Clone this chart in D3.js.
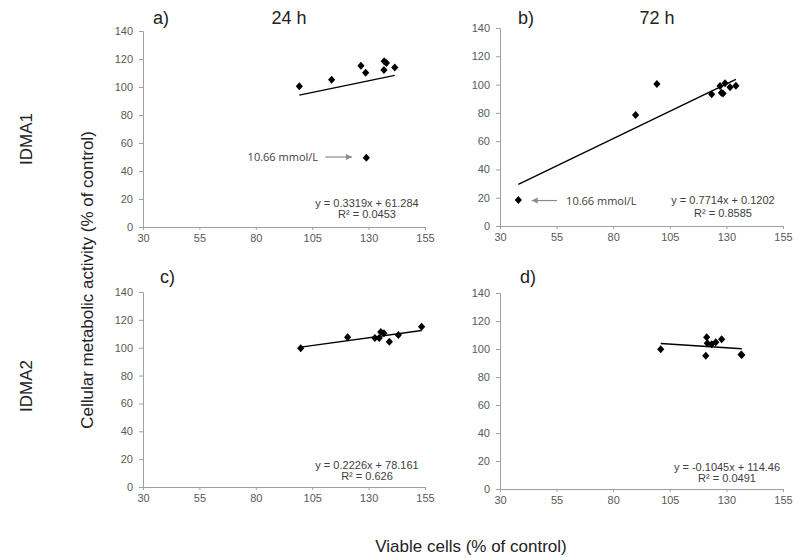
<!DOCTYPE html>
<html><head><meta charset="utf-8">
<script src="https://cdn.jsdelivr.net/npm/d3@7"></script>
<style>body{margin:0;background:#fff}svg{display:block}</style>
</head><body>
<svg id="c" width="800" height="558"></svg>
<script>
// ---- data ----
const xTicks = [30, 55, 80, 105, 130, 155];
const yTicks = [0, 20, 40, 60, 80, 100, 120, 140];
const panelLabels = ["a)", "b)", "c)", "d)"];
const timeLabels = ["24 h", "72 h"];
const rowLabels = ["IDMA1", "IDMA2"];

const aX = [99.3, 113.6, 126.6, 128.7, 136.9, 137.9, 136.8, 141.6, 129.0];
const aY = [100.5, 105.2, 115.2, 110.2, 118.4, 117.2, 112.2, 114.0, 49.5];
const bX = [38.1, 89.9, 99.3, 123.5, 127.2, 127.8, 128.5, 129.4, 131.6, 134.2];
const bY = [18.4, 78.5, 100.4, 93.1, 99.0, 94.3, 93.6, 100.9, 98.1, 99.2];
const cX = [99.9, 120.7, 132.8, 134.7, 135.4, 136.8, 139.2, 143.2, 153.5];
const cY = [99.6, 107.5, 107.0, 107.0, 111.3, 110.3, 104.3, 109.1, 115.1];
const dX = [101.0, 121.3, 120.9, 121.6, 123.5, 125.3, 127.9, 136.8, 136.5];
const dY = [99.8, 108.4, 95.2, 104.1, 103.4, 104.8, 106.9, 95.7, 96.0];

const slopes = [0.3319, 0.7714, 0.2226, -0.1045];
const intercepts = [61.284, 0.1202, 78.161, 114.46];
const eqLabels = ["y = 0.3319x + 61.284", "y = 0.7714x + 0.1202", "y = 0.2226x + 78.161", "y = -0.1045x + 114.46"];
const r2Labels = ["R\u00b2 = 0.0453", "R\u00b2 = 0.8585", "R\u00b2 = 0.626", "R\u00b2 = 0.0491"];
const annotText = "10.66 mmol/L";

// ---- layout ----
const svg = d3.select("#c");
const boxes = [
  {l:143, r:425, t:31, b:227, eqX:367, eqY:207, r2Y:218, lblX:153, lblY:24, titleX:289},
  {l:500, r:783, t:28, b:226, eqX:723, eqY:204, r2Y:217, lblX:518, lblY:24, titleX:657},
  {l:143, r:425, t:292, b:487, eqX:367, eqY:469, r2Y:480, lblX:160, lblY:283},
  {l:500, r:783, t:293, b:489, eqX:727, eqY:471, r2Y:482, lblX:520, lblY:283}
];
const xs = [aX, bX, cX, dX], ys = [aY, bY, cY, dY];
const font = "'Liberation Sans', Arial, sans-serif";

boxes.forEach((bx, i) => {
  const x = d3.scaleLinear().domain([30,155]).range([bx.l, bx.r]);
  const y = d3.scaleLinear().domain([0,140]).range([bx.b, bx.t]);
  const g = svg.append("g");

  const xa = g.append("g").attr("transform", `translate(0,${bx.b})`)
    .call(d3.axisBottom(x).tickValues(xTicks).tickSize(3).tickPadding(4).tickFormat(d3.format("d")));
  const ya = g.append("g").attr("transform", `translate(${bx.l},0)`)
    .call(d3.axisLeft(y).tickValues(yTicks).tickSize(4).tickPadding(6).tickFormat(d3.format("d")));
  [xa, ya].forEach(a => {
    a.select(".domain").attr("stroke", "#a0a0a0");
    a.selectAll(".tick line").attr("stroke", "#a0a0a0");
    a.selectAll(".tick text").attr("fill", "#595959").style("font-family", font).style("font-size", "11px");
  });

  // trendline
  const ext = d3.extent(xs[i]);
  g.append("line")
    .attr("x1", x(ext[0])).attr("y1", y(slopes[i]*ext[0] + intercepts[i]))
    .attr("x2", x(ext[1])).attr("y2", y(slopes[i]*ext[1] + intercepts[i]))
    .attr("stroke", "#000").attr("stroke-width", 1.4);

  // points
  g.selectAll("path.pt").data(xs[i].map((v, k) => [v, ys[i][k]])).join("path")
    .attr("class", "pt")
    .attr("d", "M0,-4L3.6,0L0,4L-3.6,0Z")
    .attr("transform", d => `translate(${x(d[0])},${y(d[1])})`)
    .attr("fill", "#000");

  // equation
  g.append("text").attr("x", bx.eqX).attr("y", bx.eqY).attr("text-anchor", "middle")
    .attr("fill", "#404040").style("font-family", font).style("font-size", "11px").text(eqLabels[i]);
  g.append("text").attr("x", bx.eqX).attr("y", bx.r2Y).attr("text-anchor", "middle")
    .attr("fill", "#404040").style("font-family", font).style("font-size", "11px").text(r2Labels[i]);

  // panel label
  g.append("text").attr("x", bx.lblX).attr("y", bx.lblY)
    .attr("fill", "#222").style("font-family", font).style("font-size", "18px").text(panelLabels[i]);
  if (i < 2) {
    g.append("text").attr("x", bx.titleX).attr("y", 24).attr("text-anchor", "middle")
      .attr("fill", "#222").style("font-family", font).style("font-size", "18px").text(timeLabels[i]);
  }

  // annotations
  const arrow = (x1, x2, yy) => {
    g.append("line").attr("x1", x1).attr("x2", x2).attr("y1", yy).attr("y2", yy)
      .attr("stroke", "#8a8a8a").attr("stroke-width", 1.2);
    const dir = x2 > x1 ? 1 : -1;
    g.append("path").attr("d", `M${x2},${yy}L${x2-6*dir},${yy-3}L${x2-6*dir},${yy+3}Z`).attr("fill", "#8a8a8a");
  };
  if (i === 0) {
    arrow(x(110.8), x(122.6), y(50));
    g.append("text").attr("x", x(107.6)).attr("y", y(50) + 4).attr("text-anchor", "end")
      .attr("fill", "#404040").style("font-family", "'Open Sans', sans-serif").style("font-size", "11px").text(annotText);
  }
  if (i === 1) {
    arrow(x(55.2), x(44.0), y(18));
    g.append("text").attr("x", x(59.2)).attr("y", y(18) + 4)
      .attr("fill", "#404040").style("font-family", "'Open Sans', sans-serif").style("font-size", "11px").text(annotText);
  }
});

// global labels
svg.append("text").attr("transform", "translate(93,280) rotate(-90)").attr("text-anchor", "middle")
  .attr("fill", "#222").style("font-family", font).style("font-size", "17px")
  .text("Cellular metabolic activity (% of control)");
svg.append("text").attr("x", 471).attr("y", 552).attr("text-anchor", "middle")
  .attr("fill", "#222").style("font-family", font).style("font-size", "17px")
  .text("Viable cells (% of control)");
svg.append("text").attr("transform", "translate(32,139) rotate(-90)").attr("text-anchor", "middle")
  .attr("fill", "#222").style("font-family", font).style("font-size", "17px").text(rowLabels[0]);
svg.append("text").attr("transform", "translate(32,386) rotate(-90)").attr("text-anchor", "middle")
  .attr("fill", "#222").style("font-family", font).style("font-size", "17px").text(rowLabels[1]);
</script>
</body></html>
